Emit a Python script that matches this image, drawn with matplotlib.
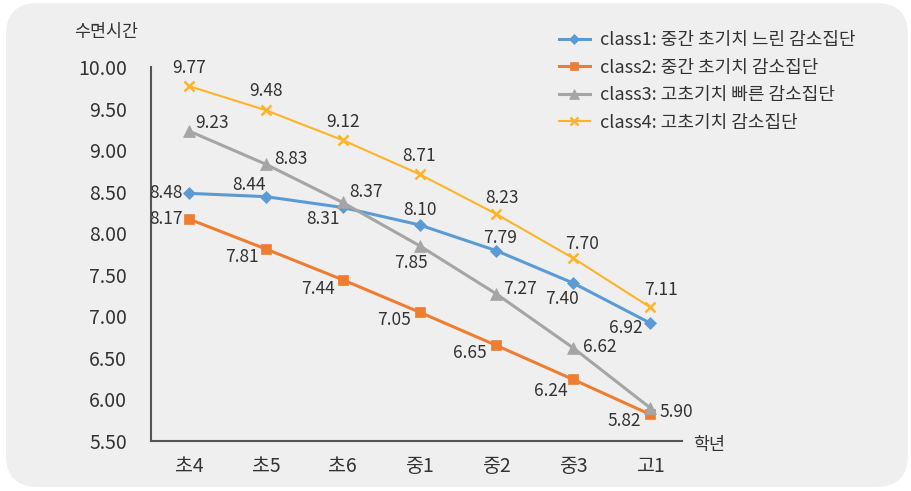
import matplotlib.pyplot as plt
from matplotlib.patches import FancyBboxPatch

plt.rcParams['font.family'] = ['Noto Sans CJK KR', 'DejaVu Sans']

grades = ['초4', '초5', '초6', '중1', '중2', '중3', '고1']
class1 = [8.48, 8.44, 8.31, 8.10, 7.79, 7.40, 6.92]
class2 = [8.17, 7.81, 7.44, 7.05, 6.65, 6.24, 5.82]
class3 = [9.23, 8.83, 8.37, 7.85, 7.27, 6.62, 5.90]
class4 = [9.77, 9.48, 9.12, 8.71, 8.23, 7.70, 7.11]
names = ['class1: 중간 초기치 느린 감소집단', 'class2: 중간 초기치 감소집단',
         'class3: 고초기치 빠른 감소집단', 'class4: 고초기치 감소집단']
yticks = [5.5, 6.0, 6.5, 7.0, 7.5, 8.0, 8.5, 9.0, 9.5, 10.0]

# label offsets in pixels (dx, dy)
off1 = [(-23, 0), (-17, 12), (-20, -12), (0, 15), (4, 13), (-11, -16), (-24, -5)]
off2 = [(-23, 0), (-24, -8), (-25, -9), (-26, -8), (-27, -8), (-22, -12), (-26, -7)]
off3 = [(23, 8), (25, 5), (23, 10), (-9, -17), (24, 5), (27, 1), (26, -4)]
off4 = [(0, 18), (0, 19), (0, 18), (0, 18), (6, 16), (9, 14), (11, 17)]

fig = plt.figure(figsize=(9.11, 4.91), dpi=100)
fig.patch.set_facecolor('white')
bg = FancyBboxPatch((6 / 911, 4 / 491), 902 / 911, 484 / 491,
                    boxstyle='round,pad=0,rounding_size=0.035',
                    transform=fig.transFigure, facecolor='#efefef',
                    edgecolor='none', mutation_aspect=911 / 491, zorder=-10)
fig.patches.append(bg)

ax = fig.add_axes([150.6 / 911, 50 / 491, 531.7 / 911, 374 / 491])
ax.set_facecolor('none')
x = list(range(len(grades)))

styles = [
    (class1, '#5b9bd5', 'D', 6, 2.2, off1),
    (class2, '#ed7d31', 's', 7, 2.2, off2),
    (class3, '#a5a5a5', '^', 8.5, 2.2, off3),
    (class4, '#ffb327', 'x', 7, 1.5, off4),
]
for (vals, col, mk, ms, lw, offs), name in zip(styles, names):
    ax.plot(x, vals, color=col, marker=mk, markersize=ms, linewidth=lw,
            markeredgewidth=1.8 if mk == 'x' else 0.5, markeredgecolor=col,
            label=name, clip_on=False)
    for xi, v, (dx, dy) in zip(x, vals, offs):
        ax.annotate(f'{v:.2f}', (xi, v), xytext=(dx, dy), textcoords='offset pixels',
                    ha='center', va='center', fontsize=12.5, color='#333333')

ax.set_xlim(-0.5, 6.42)
ax.set_ylim(5.5, 10.0)
ax.set_xticks(x)
ax.set_xticklabels(grades)
ax.set_yticks(yticks)
ax.set_yticklabels([f'{t:.2f}' for t in yticks])
ax.tick_params(length=0, labelsize=14, colors='#333333')
ax.tick_params(axis='y', pad=17)
ax.tick_params(axis='x', pad=11)
for s in ['top', 'right']:
    ax.spines[s].set_visible(False)
for s in ['left', 'bottom']:
    ax.spines[s].set_color('#555555')
    ax.spines[s].set_linewidth(1.5)

fig.text(106 / 911, 1 - 32 / 491, '수면시간', ha='center', va='center',
         fontsize=12.5, color='#333333')
fig.text(709 / 911, 1 - 445 / 491, '학년', ha='center', va='center',
         fontsize=12.5, color='#333333')

ax.legend(loc='upper left', bbox_to_anchor=(559 / 911, 1 - 31 / 491),
          bbox_transform=fig.transFigure, frameon=False, fontsize=13,
          handlelength=1.7, handletextpad=0.55, labelspacing=0.53,
          borderaxespad=0, borderpad=0, markerscale=0.8,
          labelcolor='#333333')

fig.savefig('out.png', dpi=100, facecolor='white')
